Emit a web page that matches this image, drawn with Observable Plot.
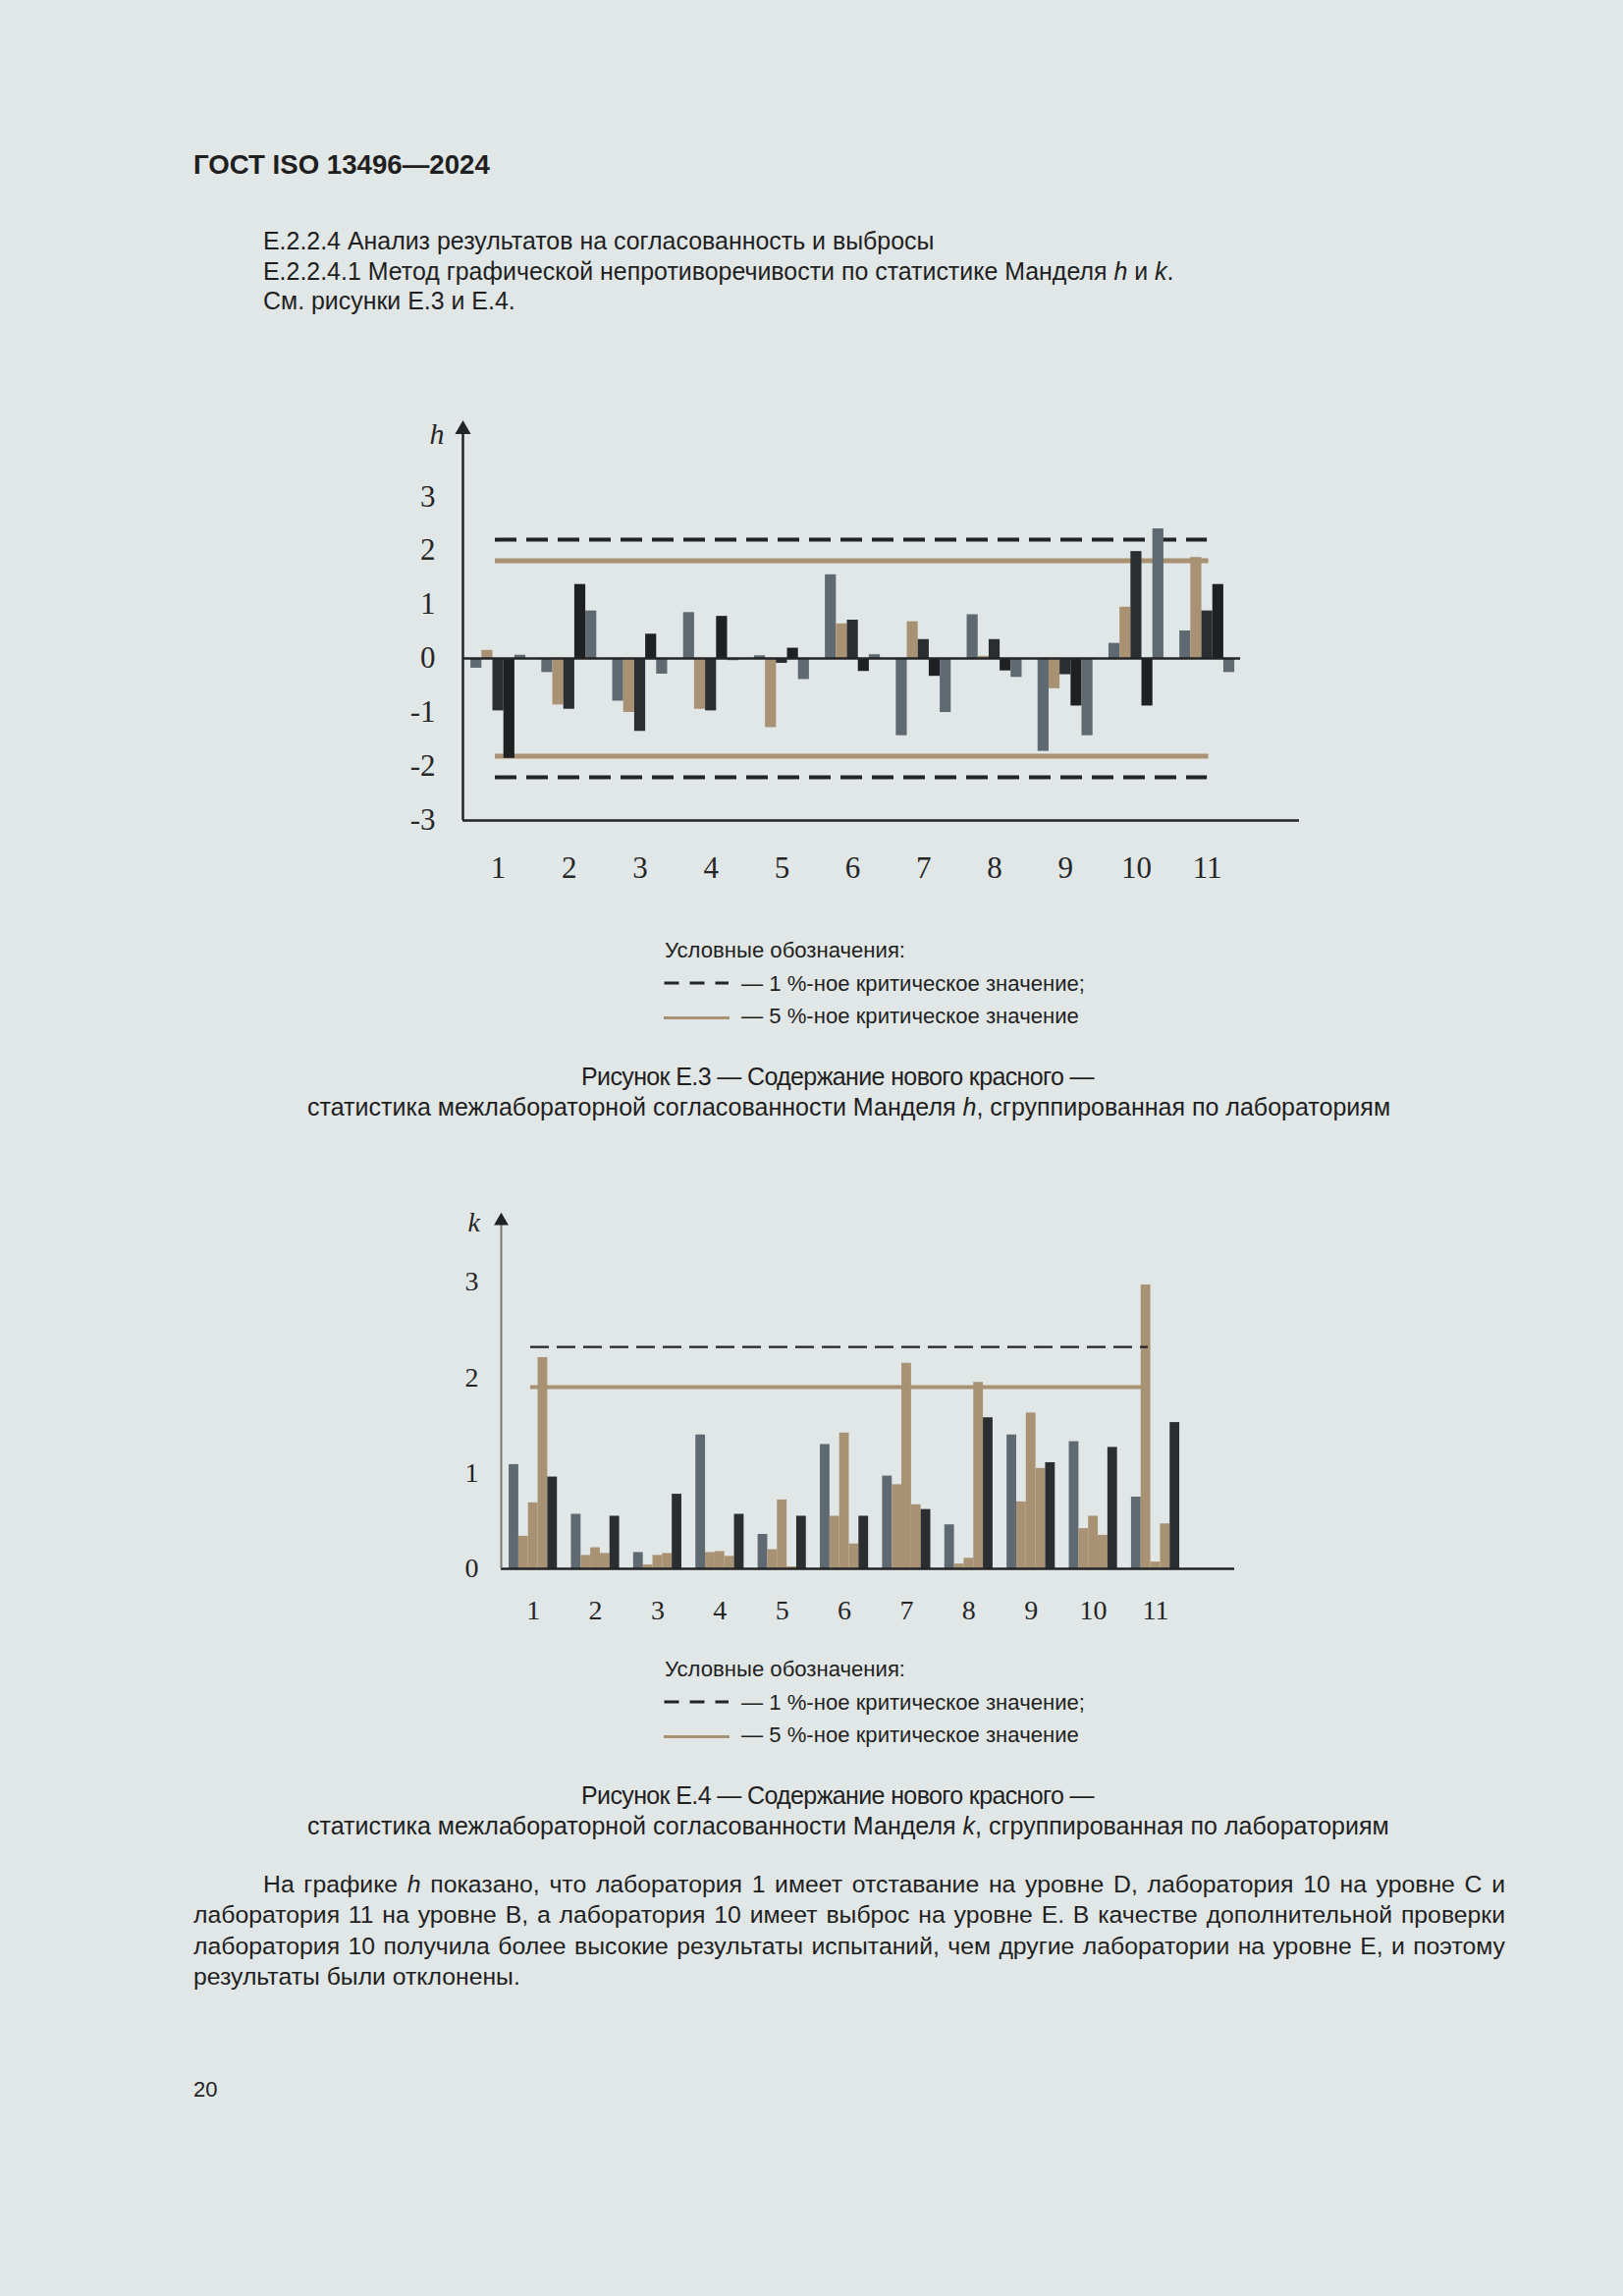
<!DOCTYPE html>
<html><head><meta charset="utf-8">
<script src="https://cdn.jsdelivr.net/npm/d3@7"></script>
<script src="https://cdn.jsdelivr.net/npm/@observablehq/plot@0.6"></script>
<style>
html,body{margin:0;padding:0;background:#e1e6e6;}
#page{position:relative;width:1653px;height:2338px;background:#e1e6e6;overflow:hidden;font-family:"Liberation Sans",Arial,sans-serif;color:#1f1f1f;}
.t{position:absolute;white-space:nowrap;line-height:1;}
.j{position:absolute;line-height:1;white-space:normal;text-align:justify;text-align-last:justify;}
.abs{position:absolute;}
</style></head><body><div id="page"></div>
<script>
// ---------------- data ----------------
const labs = [1, 2, 3, 4, 5, 6, 7, 8, 9, 10, 11];
const levels = ["A", "B", "C", "D", "E"];
// Mandel h per lab, levels A..E
const hValues = [
  [-0.18, 0.15, -0.97, -1.85, 0.06],
  [-0.26, -0.86, -0.94, 1.37, 0.88],
  [-0.79, -1.00, -1.35, 0.45, -0.29],
  [0.85, -0.94, -0.97, 0.78, -0.04],
  [0.05, -1.28, -0.09, 0.19, -0.39],
  [1.55, 0.64, 0.71, -0.24, 0.07],
  [-1.43, 0.68, 0.35, -0.33, -1.00],
  [0.81, 0.04, 0.35, -0.23, -0.35],
  [-1.72, -0.56, -0.30, -0.88, -1.43],
  [0.28, 0.95, 1.98, -0.88, 2.40],
  [0.51, 1.87, 0.88, 1.37, -0.26]
];
// Mandel k per lab, levels A..E
const kValues = [
  [1.09, 0.34, 0.69, 2.21, 0.96],
  [0.57, 0.14, 0.22, 0.16, 0.55],
  [0.17, 0.04, 0.14, 0.16, 0.78],
  [1.40, 0.17, 0.18, 0.13, 0.57],
  [0.36, 0.20, 0.72, 0.02, 0.55],
  [1.30, 0.55, 1.42, 0.26, 0.55],
  [0.97, 0.88, 2.15, 0.67, 0.62],
  [0.46, 0.05, 0.11, 1.95, 1.58],
  [1.40, 0.70, 1.63, 1.05, 1.11],
  [1.33, 0.42, 0.55, 0.35, 1.27],
  [0.75, 2.97, 0.07, 0.47, 1.53]
];
const hCrit1 = 2.2, hCrit5 = 1.81;
const kCrit1 = 2.32, kCrit5 = 1.90;
const hTicks = [-3, -2, -1, 0, 1, 2, 3];
const kTicks = [0, 1, 2, 3];

const headerText = "ГОСТ ISO 13496—2024";
const introLines = [
  "Е.2.2.4 Анализ результатов на согласованность и выбросы",
  "Е.2.2.4.1 Метод графической непротиворечивости по статистике Манделя <i>h</i> и <i>k</i>.",
  "См. рисунки Е.3 и Е.4."
];
const legendTitle = "Условные обозначения:";
const legend1 = "— 1 %-ное критическое значение;";
const legend5 = "— 5 %-ное критическое значение";
const capH = ["Рисунок Е.3 — Содержание нового красного —",
  "статистика межлабораторной согласованности Манделя <i>h</i>, сгруппированная по лабораториям"];
const capK = ["Рисунок Е.4 — Содержание нового красного —",
  "статистика межлабораторной согласованности Манделя <i>k</i>, сгруппированная по лабораториям"];
const bodyLines = [
  "На графике <i>h</i> показано, что лаборатория 1 имеет отставание на уровне D, лаборатория 10 на уровне C и",
  "лаборатория 11 на уровне B, а лаборатория 10 имеет выброс на уровне E. В качестве дополнительной проверки",
  "лаборатория 10 получила более высокие результаты испытаний, чем другие лаборатории на уровне E, и поэтому",
  "результаты были отклонены."
];
const pageNumber = "20";

// ---------------- styles ----------------
const TAN = "#a99273", GRAY = "#5e6972", DARK = "#2b2e31", BLACK = "#1f2022", INK = "#222325";
const BW = 0.155; // bar width in lab units

// ---------------- text helpers ----------------
const page = document.getElementById("page");
function measure(html, fs, bold) {
  const el = document.createElement("div");
  el.className = "t"; el.innerHTML = html; el.style.fontSize = fs + "px";
  if (bold) el.style.fontWeight = "bold";
  el.style.visibility = "hidden";
  page.appendChild(el);
  const w = el.getBoundingClientRect().width;
  el.remove();
  return w;
}
function fitSize(html, width, bold) { return 24 * width / measure(html, 24, bold); }
function place(html, left, baseline, fs, opts = {}) {
  const el = document.createElement("div");
  el.className = "t"; el.innerHTML = html; el.style.fontSize = fs + "px";
  if (opts.bold) el.style.fontWeight = "bold";
  page.appendChild(el);
  if (opts.width) {
    const w = el.getBoundingClientRect().width;
    const n = el.textContent.length;
    el.style.letterSpacing = ((opts.width - w) / n) + "px";
  }
  el.style.left = left + "px";
  el.style.top = (baseline - 0.8465 * fs) + "px";
  return el;
}
function placeJ(html, left, right, baseline, fs) {
  const el = document.createElement("div");
  el.className = "j"; el.innerHTML = html; el.style.fontSize = fs + "px";
  el.style.left = left + "px"; el.style.width = (right - left) + "px";
  el.style.top = (baseline - 0.8465 * fs) + "px";
  page.appendChild(el);
}

// header + intro
place(headerText, 197, 177, fitSize(headerText, 302, true), {bold: true});
const introFs = fitSize(introLines[1], 928);
introLines.forEach((l, i) => place(l, 268, [254, 285, 315][i], introFs));

// legends and captions
const legFs = fitSize(legend1, 350);
const capFs = fitSize(capH[1], 1104);
function legendBlock(b0, caps, capBase) {
  place(legendTitle, 677, b0, legFs);
  place(legend1, 755, b0 + 34, legFs);
  place(legend5, 755, b0 + 67, legFs);
  const ns = "http://www.w3.org/2000/svg";
  const svg = document.createElementNS(ns, "svg");
  svg.setAttribute("width", 80); svg.setAttribute("height", 60);
  svg.setAttribute("class", "abs");
  svg.style.left = "670px"; svg.style.top = (b0 + 10) + "px";
  svg.innerHTML =
    `<line x1="6.5" x2="72" y1="15" y2="15" stroke="${INK}" stroke-width="3" stroke-dasharray="15,11"/>` +
    `<line x1="6" x2="73" y1="50.5" y2="50.5" stroke="${TAN}" stroke-width="3"/>`;
  page.appendChild(svg);
  place(caps[0], 592, capBase, capFs, {width: 522});
  place(caps[1], 313, capBase + 31, capFs);
}
legendBlock(976, capH, 1105);
legendBlock(1708, capK, 1837);

// body paragraph
const bodyFs = fitSize(bodyLines[3], 333);
placeJ(bodyLines[0], 268, 1533, 1928, bodyFs);
placeJ(bodyLines[1], 197, 1533, 1959, bodyFs);
placeJ(bodyLines[2], 197, 1533, 1991, bodyFs);
place(bodyLines[3], 197, 2022, bodyFs);
place(pageNumber, 197, 2136, 22);

// ---------------- charts ----------------
const rows = vals => labs.flatMap((lab, i) => levels.map((level, j) => ({lab, level, j, value: vals[i][j]})));
const barX1 = d => d.lab + (d.j - 2.5) * BW;
const barX2 = d => d.lab + (d.j - 1.5) * BW;
const fmt = d => (d < 0 ? "-" + Math.abs(d) : String(d));

// h chart
const hX = [0.5, 12.3], hY = [-3, 4.42];
const hSpan = [0.957, 11.0];
const chartH = Plot.plot({
  width: 963, height: 520, marginLeft: 91, marginRight: 20, marginTop: 27, marginBottom: 85,
  style: {background: "transparent", fontFamily: "'Liberation Serif', serif", fontSize: "31px", color: "#262626"},
  x: {domain: hX, ticks: labs, tickSize: 0, tickPadding: 36, tickFormat: d => String(d), label: null},
  y: {domain: hY, ticks: hTicks, tickSize: 0, tickPadding: 28, tickFormat: fmt, label: null},
  color: {type: "ordinal", domain: levels, range: [GRAY, TAN, DARK, BLACK, GRAY]},
  marks: [
    Plot.ruleY([hCrit1, -hCrit1], {x1: () => hSpan[0], x2: () => hSpan[1], stroke: INK, strokeWidth: 4, strokeDasharray: "22,10"}),
    Plot.ruleY([hCrit5, -hCrit5], {x1: () => hSpan[0], x2: () => hSpan[1] + 0.02, stroke: TAN, strokeWidth: 5}),
    Plot.rectY(rows(hValues), {x1: barX1, x2: barX2, y1: () => 0, y2: "value", fill: "level"}),
    Plot.ruleY([0], {x1: () => hX[0], x2: () => 11.47, stroke: INK, strokeWidth: 2.5}),
    Plot.ruleY([hY[0]], {x1: () => hX[0], x2: () => hX[1], stroke: INK, strokeWidth: 2.5}),
    Plot.ruleX([hX[0]], {y1: () => hY[0], y2: () => 4.3, stroke: INK, strokeWidth: 2.5}),
    Plot.dot([hX[0]], {x: d => d, y: () => 4.24, symbol: "triangle", r: 6, fill: INK, stroke: "none"}),
    Plot.text(["h"], {text: d => d, frameAnchor: "top-left", dx: -34, dy: 3, fontStyle: "italic", fontSize: 30, fill: "#262626"})
  ]
});
chartH.classList.add("abs");
chartH.style.left = "380px"; chartH.style.top = "400px";
page.appendChild(chartH);

// k chart
const kX = [0.485, 12.27], kY = [0, 3.74];
const kSpan = [0.958, 10.88];
const chartK = Plot.plot({
  width: 857, height: 467, marginLeft: 90, marginRight: 20, marginTop: 33, marginBottom: 70,
  style: {background: "transparent", fontFamily: "'Liberation Serif', serif", fontSize: "28px", color: "#262626"},
  x: {domain: kX, ticks: labs, tickSize: 0, tickPadding: 32, tickFormat: d => String(d), label: null},
  y: {domain: kY, ticks: kTicks, tickSize: 0, tickPadding: 23, tickFormat: fmt, label: null},
  color: {type: "ordinal", domain: levels, range: [GRAY, TAN, TAN, TAN, DARK]},
  marks: [
    Plot.rectY(rows(kValues), {x1: barX1, x2: barX2, y1: () => 0, y2: "value", fill: "level"}),
    Plot.ruleY([kCrit1], {x1: () => kSpan[0], x2: () => kSpan[1], stroke: INK, strokeWidth: 2.2, strokeDasharray: "19,8"}),
    Plot.ruleY([kCrit5], {x1: () => kSpan[0], x2: () => kSpan[1] - 0.03, stroke: TAN, strokeWidth: 4}),
    Plot.ruleY([0], {x1: () => kX[0], x2: () => kX[1], stroke: INK, strokeWidth: 2.5}),
    Plot.ruleX([kX[0]], {y1: () => 0, y2: () => 3.6, stroke: "#777670", strokeWidth: 2}),
    Plot.dot([kX[0]], {x: d => d, y: () => 3.64, symbol: "triangle", r: 5.5, fill: INK, stroke: "none"}),
    Plot.text(["k"], {text: d => d, frameAnchor: "top-left", dx: -34, dy: 1, fontStyle: "italic", fontSize: 28, fill: "#262626"})
  ]
});
chartK.classList.add("abs");
chartK.style.left = "420px"; chartK.style.top = "1200px";
page.appendChild(chartK);
</script>
</body></html>
